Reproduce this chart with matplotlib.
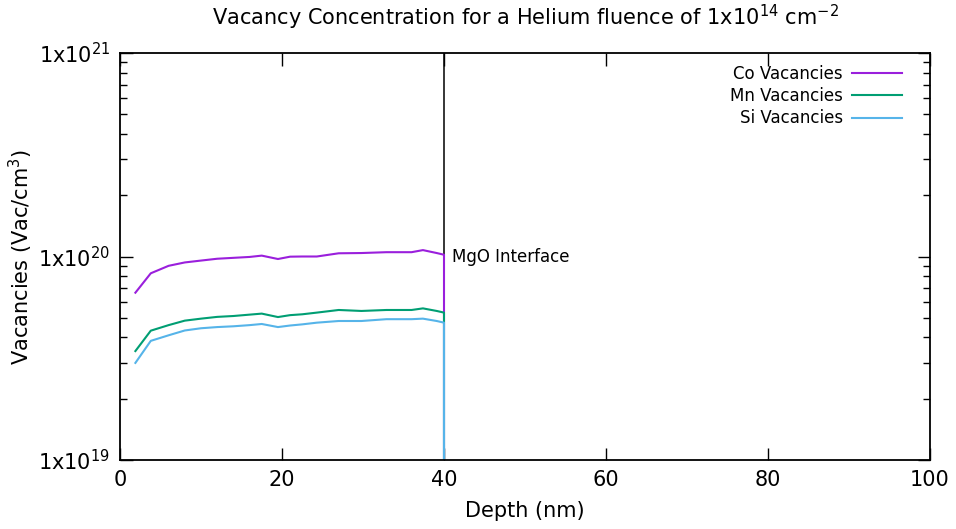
import matplotlib
matplotlib.use("Agg")
import matplotlib.pyplot as plt
from matplotlib.ticker import LogLocator, FixedLocator, NullFormatter

plt.rcParams['font.family'] = ['DejaVu Sans']
plt.rcParams['mathtext.default'] = 'regular'

depth = [1.9, 3.8, 6.0, 8.0, 10.0, 12.0, 14.0, 16.0, 17.5, 19.5, 21.0, 22.5,
         24.3, 27.0, 29.8, 32.9, 36.0, 37.4, 39.1, 40.0, 40.0]
co = [6.64e19, 8.27e19, 9.0e19, 9.35e19, 9.55e19, 9.75e19, 9.85e19, 9.95e19, 1.01e20, 9.72e19, 9.98e19, 1.0e20,
      1.0e20, 1.037e20, 1.04e20, 1.05e20, 1.05e20, 1.075e20, 1.04e20, 1.02e20, 1e15]
mn = [3.43e19, 4.32e19, 4.6e19, 4.84e19, 4.95e19, 5.05e19, 5.1e19, 5.18e19, 5.24e19, 5.04e19, 5.15e19, 5.2e19,
      5.3e19, 5.46e19, 5.4e19, 5.46e19, 5.46e19, 5.56e19, 5.4e19, 5.3e19, 1e15]
si = [3.0e19, 3.85e19, 4.1e19, 4.33e19, 4.44e19, 4.5e19, 4.54e19, 4.6e19, 4.66e19, 4.5e19, 4.58e19, 4.64e19,
      4.73e19, 4.82e19, 4.82e19, 4.92e19, 4.92e19, 4.95e19, 4.82e19, 4.73e19, 1e15]

series_labels = ["Co Vacancies", "Mn Vacancies", "Si Vacancies"]
colors = ["#9a1fdc", "#009e73", "#56b4e9"]
xticks = [0, 20, 40, 60, 80, 100]
yticks = [1e19, 1e20, 1e21]
ytick_labels = ["1x10$^{19}$", "1x10$^{20}$", "1x10$^{21}$"]
interface_x = 40

fig = plt.figure(figsize=(9.56, 5.29), dpi=100)
ax = fig.add_axes([120/956, 1-460/529, 810/956, 407/529])
ax.set_yscale('log')
ax.set_xlim(0, 100)
ax.set_ylim(1e19, 1e21)

ax.axvline(interface_x, color='black', lw=1.1, zorder=1)
for y, lab, c in zip([co, mn, si], series_labels, colors):
    ax.plot(depth, y, color=c, lw=1.5, label=lab, zorder=2)

ax.text(interface_x + 1.0, 1e20, "MgO Interface", fontsize=12, va='center', ha='left')

ax.xaxis.set_major_locator(FixedLocator(xticks))
ax.set_xticklabels([str(t) for t in xticks])
ax.yaxis.set_major_locator(FixedLocator(yticks))
ax.set_yticklabels(ytick_labels)
ax.yaxis.set_minor_locator(LogLocator(base=10, subs=range(2, 10)))
ax.yaxis.set_minor_formatter(NullFormatter())
ax.tick_params(which='both', direction='in', top=True, right=True, labelsize=15, width=1.0)
ax.tick_params(which='major', length=9, pad=7)
ax.tick_params(which='minor', length=5)
for s in ax.spines.values():
    s.set_linewidth(1.3)

ax.set_xlabel("Depth (nm)", fontsize=15, labelpad=8)
ax.set_ylabel("Vacancies (Vac/cm$^{3}$)", fontsize=15, labelpad=2)
ax.set_title("Vacancy Concentration for a Helium fluence of 1x10$^{14}$ cm$^{-2}$", fontsize=15, pad=20)

leg = ax.legend(loc='upper right', frameon=False, markerfirst=False, fontsize=12,
                handlelength=3.0, handletextpad=0.55, labelspacing=0.25,
                bbox_to_anchor=(0.984, 1.007))
for t in leg.get_texts():
    t.set_ha('right')

fig.savefig("out.png", dpi=100)
